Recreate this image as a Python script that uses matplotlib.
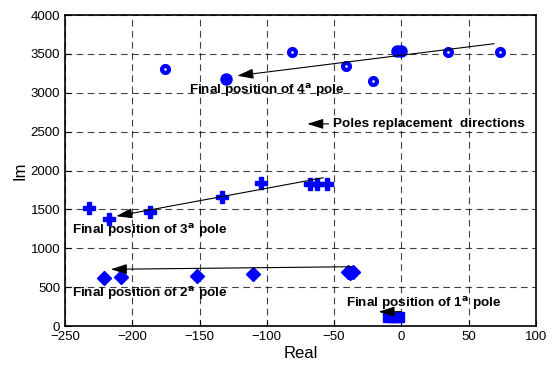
import numpy as np
import matplotlib
matplotlib.use("Agg")
import matplotlib.pyplot as plt

plt.rcParams['font.family'] = ['Liberation Sans', 'DejaVu Sans']

# pole 4 (circles)
p4_re = [-176, -81, -41, -21, 35, 73]
p4_im = [3300, 3528, 3344, 3151, 3528, 3520]
p4_fill_re = [-130, -3, 0]
p4_fill_im = [3175, 3541, 3541]
# pole 3 (plus)
p3_re = [-232, -217, -187, -133, -104, -68, -63, -55]
p3_im = [1522, 1372, 1470, 1663, 1835, 1826, 1826, 1826]
# pole 2 (diamonds)
p2_re = [-221, -208, -152, -110, -40, -38, -36]
p2_im = [613, 626, 647, 669, 690, 686, 690]
# pole 1 (squares)
p1_re = [-10, -7, -4, -2]
p1_im = [110, 110, 110, 110]

fig = plt.figure(figsize=(5.53, 3.67), dpi=100)
ax = fig.add_axes([0.1175, 0.1117, 0.8515, 0.8473])

ax.plot(p4_re, p4_im, 'o', ms=5, mfc='white', mec='blue', mew=3, ls='none')
ax.plot(p4_fill_re, p4_fill_im, 'o', ms=8, color='blue', ls='none')
ax.plot(p3_re, p3_im, 'P', ms=9, color='blue', ls='none')
ax.plot(p2_re, p2_im, 'D', ms=7.5, color='blue', ls='none')
ax.plot(p1_re, p1_im, 's', ms=7, color='blue', ls='none')

arrow = dict(arrowstyle='-|>,head_length=0.7,head_width=0.22', color='black',
             lw=0.8, mutation_scale=14)
ax.annotate('', xy=(-124, 3215), xytext=(71, 3636), arrowprops=arrow)
ax.annotate('', xy=(-214, 1406), xytext=(-56, 1913), arrowprops=arrow)
ax.annotate('', xy=(-218, 729), xytext=(-35, 763), arrowprops=arrow)
ax.annotate('', xy=(-19, 184), xytext=(2, 184), arrowprops=arrow)
ax.annotate('', xy=(-72, 2600), xytext=(-52, 2600), arrowprops=arrow)

tkw = dict(fontsize=9.7, fontweight='bold')
ax.text(-158, 2990, 'Final position of 4$^{\\mathbf{a}}$ pole', **tkw)
ax.text(-245, 1180, 'Final position of 3$^{\\mathbf{a}}$ pole', **tkw)
ax.text(-245, 370, 'Final position of 2$^{\\mathbf{a}}$ pole', **tkw)
ax.text(-41, 240, 'Final position of 1$^{\\mathbf{a}}$ pole', **tkw)
ax.text(-51, 2600, 'Poles replacement  directions', va='center', **tkw)

ax.set_xlim(-250, 100)
ax.set_ylim(0, 4000)
ax.set_xticks(np.arange(-250, 101, 50))
ax.set_yticks(np.arange(0, 4001, 500))
ax.grid(True, color='black', ls=(0, (6, 4)), lw=0.8, alpha=0.75)
ax.tick_params(direction='in', labelsize=9.5, length=4)
for s in ax.spines.values():
    s.set_linewidth(1.2)
ax.set_xlabel('Real', fontsize=12, labelpad=2)
ax.set_ylabel('Im', fontsize=12, labelpad=2)

fig.savefig('out.png', dpi=100)
